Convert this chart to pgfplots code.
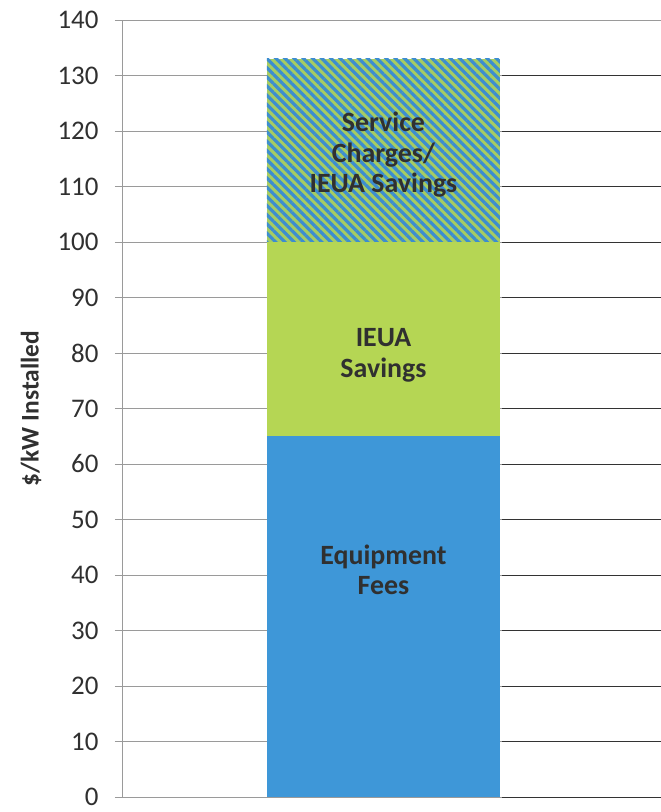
\documentclass[border=0pt]{standalone}
\usepackage{pgfplots}
\pgfplotsset{compat=1.18}
\usepackage{fontspec}
\setmainfont{Carlito}
\usetikzlibrary{patterns.meta,calc}
\definecolor{eqblue}{HTML}{3E97D8}
\definecolor{ieugreen}{HTML}{B5D654}
\definecolor{hatchblue}{HTML}{3C8DD0}
\definecolor{hatchgreen}{HTML}{A6CC62}
\definecolor{txt}{HTML}{303030}
\definecolor{gridgray}{HTML}{9A9A9A}
\begin{document}
\begin{tikzpicture}
\useasboundingbox (-122bp,-15bp) rectangle (539bp,797bp);
\begin{axis}[
  at={(0,0)}, anchor=south west,
  scale only axis,
  width=539bp, height=777bp,
  xmin=-1.122, xmax=1.191,
  ymin=0, ymax=140,
  ytick={0,10,...,140},
  xtick=\empty,
  axis x line*=bottom,
  axis y line*=left,
  axis line style={gridgray, thin, -},
  ymajorgrids,
  grid style={gridgray, thin},
  tick align=outside,
  major tick length=7bp,
  tick style={gridgray, thin},
  /pgf/number format/assume math mode=true,
  yticklabel style={font=\fontsize{27}{29}\selectfont, text=txt, xshift=-13bp},
  ylabel={\textbf{\$/kW Installed}},
  ylabel style={font=\fontsize{25.5}{27}\selectfont, text=txt, at={(axis description cs:-0.1688,0.5)}, anchor=center},
  ybar stacked,
  bar width=1,
  clip=false,
]
\addplot[draw=none, fill=eqblue] coordinates {(0,65)};
\addplot[draw=none, fill=ieugreen] coordinates {(0,35)};
\addplot[draw=none, fill=hatchgreen, postaction={pattern={Lines[angle=-45,distance=6.5bp,line width=3.2bp]}, pattern color=hatchblue}] coordinates {(0,33)};
\coordinate (L1) at (axis cs:0,115.7);
\coordinate (L2) at (axis cs:0,79.6);
\coordinate (L3) at (axis cs:0,40.9);
\coordinate (R0) at (axis cs:0.51,0);
\end{axis}
\foreach \k in {0,...,13} {
  \draw[black!80, line width=0.9pt] ($(R0)+(0,\k*55.5bp)$) -- ++(159bp,0);
}
\node[font=\bfseries\fontsize{28}{30.5}\selectfont, text=txt, align=center] at (L1) {Service\\Charges/\\IEUA Savings};
\node[font=\bfseries\fontsize{28}{30.5}\selectfont, text=txt, align=center] at (L2) {IEUA\\Savings};
\node[font=\bfseries\fontsize{28}{30.5}\selectfont, text=txt, align=center] at (L3) {Equipment\\Fees};
\end{tikzpicture}
\end{document}
